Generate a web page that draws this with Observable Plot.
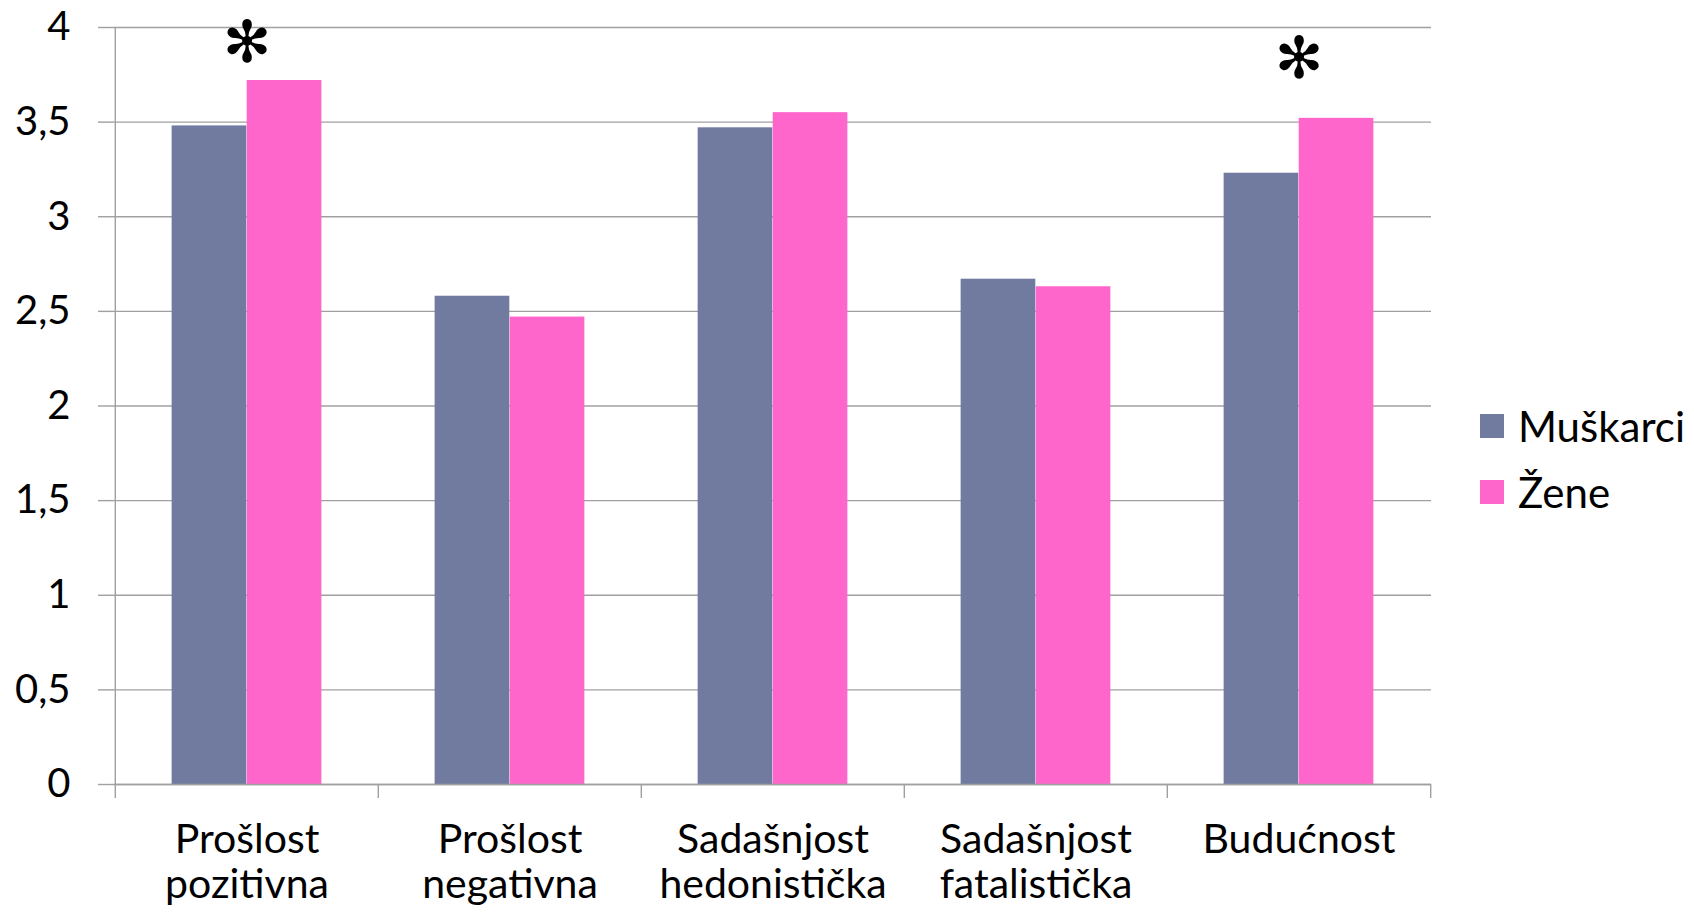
<!DOCTYPE html>
<html><head><meta charset="utf-8">
<script src="https://cdn.jsdelivr.net/npm/d3@7"></script>
<script src="https://cdn.jsdelivr.net/npm/@observablehq/plot@0.6"></script>
<style>
body{margin:0;background:#fff;font-family:Lato,sans-serif;}
#wrap{position:relative;width:1694px;height:912px;}
#legend{position:absolute;left:1480px;top:393px;font-family:Lato,sans-serif;font-size:42px;color:#000;}
.row{display:flex;align-items:center;height:66px;}
.sw{width:24px;height:24px;margin-right:14px;}
</style></head><body><div id="wrap"><div id="chart"></div><div id="legend"></div></div>
<script>
const categories = ["Prošlost\npozitivna","Prošlost\nnegativna","Sadašnjost\nhedonistička","Sadašnjost\nfatalistička","Budućnost"];
const series = ["Muškarci","Žene"];
const muskarci = [3.48,2.58,3.47,2.67,3.23];
const zene = [3.72,2.47,3.55,2.63,3.52];
const colors = ["#717ba0","#ff66cc"];
const yTicks = [0,0.5,1,1.5,2,2.5,3,3.5,4];
const significant = ["Prošlost\npozitivna","Budućnost"];
const starLevel = [3.915,3.83];

const W=1694,H=912,mL=114,mR=263,mT=27,mB=128;
const step=(W-mL-mR)/categories.length;
const outer=step*0.215;
const rows=[];
categories.forEach((c,i)=>{rows.push({category:c,series:series[0],value:muskarci[i]});rows.push({category:c,series:series[1],value:zene[i]});});
const grid="#a0a0a0";
const chart=Plot.plot({
  width:W,height:H,marginLeft:mL,marginRight:mR,marginTop:mT,marginBottom:mB,
  style:{fontFamily:"Lato, sans-serif",background:"#fff",color:"#000"},
  x:{type:"band",domain:categories,padding:0,label:null},
  y:{domain:[0,4],label:null},
  marks:[
    Plot.gridY(yTicks,{stroke:grid,strokeOpacity:1,strokeWidth:1.4}),
    Plot.barY(rows.filter(d=>d.series===series[0]),{x:"category",y:"value",fill:colors[0],insetLeft:outer,insetRight:step/2}),
    Plot.barY(rows.filter(d=>d.series===series[1]),{x:"category",y:"value",fill:colors[1],insetLeft:step/2,insetRight:outer}),
    Plot.ruleY([0],{stroke:grid,strokeWidth:1.4}),
    Plot.ruleX([categories[0]],{dx:-step/2,stroke:grid,strokeWidth:1.4,insetBottom:-14}),
    Plot.ruleX(categories.slice(1),{dx:-step/2,y1:0,y2:0,stroke:grid,strokeWidth:1.4,insetBottom:-14}),
    Plot.ruleX([categories[categories.length-1]],{dx:step/2,y1:0,y2:0,stroke:grid,strokeWidth:1.4,insetBottom:-14}),
    Plot.axisY(yTicks,{tickSize:16,tickPadding:28,fontSize:40,stroke:grid,strokeWidth:1.4,fill:"#000",tickFormat:d=>String(d).replace(".",","),label:null}),
    Plot.axisX({tickSize:0,tickPadding:36,fontSize:41,lineHeight:1.1,fill:"#000",label:null}),
    Plot.text(significant,{x:d=>d,y:(d,i)=>starLevel[i],text:()=>"✻",fontSize:58,fontFamily:"DejaVu Sans",fill:"#000",lineAnchor:"middle"})
  ]
});
document.getElementById("chart").appendChild(chart);
const lg=document.getElementById("legend");
series.forEach((s,i)=>{const r=document.createElement("div");r.className="row";r.innerHTML=`<div class="sw" style="background:${colors[i]}"></div><span>${s}</span>`;lg.appendChild(r);});
</script></body></html>
